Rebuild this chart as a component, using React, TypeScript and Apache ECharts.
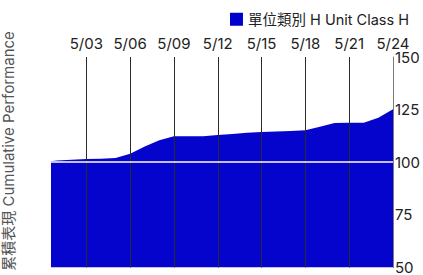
import React, { useEffect, useRef } from "react";
import * as echarts from "echarts";

const seriesName = "單位類別 H Unit Class H";
const yAxisTitle = "累積表現 Cumulative Performance";
const dates = [
  "2024-04-30", "2024-05-01", "2024-05-02", "2024-05-03", "2024-05-04", "2024-05-05",
  "2024-05-06", "2024-05-07", "2024-05-08", "2024-05-09", "2024-05-10", "2024-05-11",
  "2024-05-12", "2024-05-13", "2024-05-14", "2024-05-15", "2024-05-16", "2024-05-17",
  "2024-05-18", "2024-05-19", "2024-05-20", "2024-05-21", "2024-05-22", "2024-05-23",
  "2024-05-24",
];
const values = [
  100.0, 100.8, 101.2, 101.5, 101.7, 102.0,
  104.0, 107.5, 110.5, 112.3, 112.4, 112.4,
  113.0, 113.4, 114.0, 114.4, 114.6, 114.8,
  115.2, 116.9, 118.6, 118.8, 118.8, 121.1,
  125.2,
];
const tickDates = ["2024-05-03", "2024-05-06", "2024-05-09", "2024-05-12", "2024-05-15", "2024-05-18", "2024-05-21", "2024-05-24"];
const yTicks = [50, 75, 100, 125, 150];
const baseline = 100;

const DAY = 86400000;
const EPOCH = Date.UTC(2024, 0, 1);
// day index since 2024-01-01 (UTC, timezone-independent)
const toDay = (s: string) => {
  const [y, m, d] = s.split("-").map(Number);
  return Math.round((Date.UTC(y, m - 1, d) - EPOCH) / DAY);
};
const fmtDay = (v: number) => {
  const d = new Date(EPOCH + Math.round(v) * DAY);
  return `${d.getUTCMonth() + 1}/${String(d.getUTCDate()).padStart(2, "0")}`;
};

export default function App() {
  const ref = useRef<HTMLDivElement>(null);
  useEffect(() => {
    document.body.style.margin = "0";
    if (!ref.current) return;
    const chart = echarts.init(ref.current, undefined, { renderer: "svg" });
    const font = "Inter, 'Noto Sans CJK TC', sans-serif";
    const tickDays = tickDates.map(toDay);
    const xMin = toDay(dates[0]) + 0.58;
    chart.setOption({
      animation: false,
      textStyle: { fontFamily: font },
      legend: {
        data: [seriesName],
        right: 9,
        top: 7,
        itemWidth: 13,
        itemHeight: 13,
        itemGap: 6,
        icon: "rect",
        textStyle: { fontSize: 14.5, color: "#222", fontFamily: font },
      },
      graphic: [
        {
          type: "text",
          x: 8,
          y: 151,
          rotation: Math.PI / 2,
          style: {
            text: yAxisTitle,
            fontSize: 15,
            fontFamily: font,
            fill: "#555",
            align: "center",
            verticalAlign: "middle",
          },
        },
      ],
      grid: { left: 51, right: 28, top: 57, bottom: 4 },
      xAxis: {
        type: "value",
        position: "top",
        min: xMin,
        max: toDay(dates[dates.length - 1]),
        z: 5,
        axisLine: { show: false },
        axisTick: { show: false, customValues: tickDays },
        axisLabel: {
          customValues: tickDays,
          margin: 6,
          fontSize: 15,
          color: "#222",
          fontFamily: font,
          formatter: (v: number) => fmtDay(v),
        },
        splitLine: { show: true, lineStyle: { color: "#2a2a2a", width: 1 } },
      },
      yAxis: {
        type: "value",
        position: "right",
        min: yTicks[0],
        max: yTicks[yTicks.length - 1],
        interval: 25,
        z: 5,
        axisLine: { show: true, lineStyle: { color: "#7a7a7a", width: 1 } },
        axisTick: { show: false },
        splitLine: { show: false },
        axisLabel: { margin: 2, fontSize: 15, color: "#222", fontFamily: font },
      },
      series: [
        {
          name: seriesName,
          type: "line",
          data: dates.map((d, i) => [toDay(d), values[i]]),
          symbol: "none",
          itemStyle: { color: "#0000CC" },
          lineStyle: { width: 0 },
          areaStyle: { color: "#0404CC", opacity: 1, origin: "start" },
          z: 2,
          markLine: {
            silent: true,
            symbol: "none",
            label: { show: false },
            lineStyle: { color: "#ffffff", width: 1.5, type: "solid" },
            data: [{ yAxis: baseline }],
          },
        },
      ],
    });
    return () => chart.dispose();
  }, []);
  return <div ref={ref} style={{ width: 423, height: 275 }} />;
}
